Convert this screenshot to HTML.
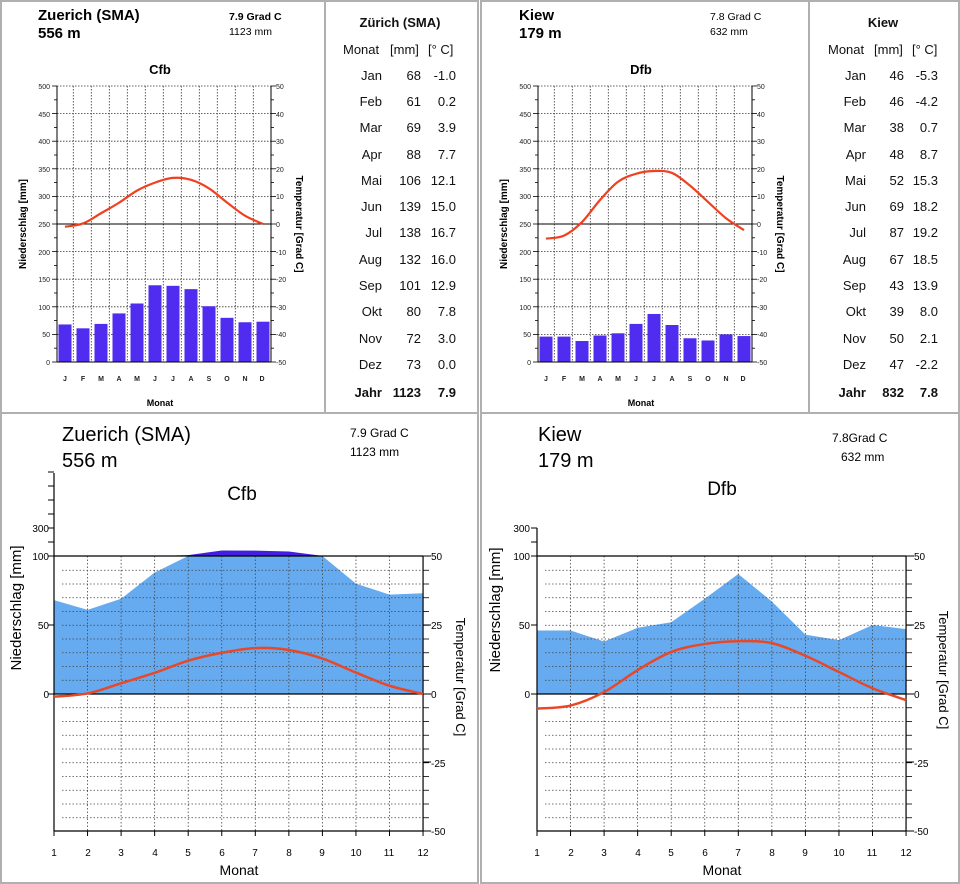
<!DOCTYPE html>
<html><head><meta charset="utf-8"><style>
body{margin:0;background:#fff;width:960px;height:884px;overflow:hidden}
svg{display:block;font-family:"Liberation Sans",sans-serif}
.b{font-weight:bold}
.t{font-size:7px;fill:#222}
.tb{font-size:13px;fill:#111}
</style></head><body>
<svg id="s" width="960" height="884" viewBox="0 0 960 884" xmlns="http://www.w3.org/2000/svg">
<rect x="0" y="0" width="960" height="884" fill="#fff"/>
<g id="g"></g>
<g fill="none" stroke="#b0b0b0" stroke-width="2">
<rect x="1" y="1" width="324" height="412"/>
<rect x="325" y="1" width="153" height="412"/>
<rect x="481" y="1" width="328" height="412"/>
<rect x="809" y="1" width="150" height="412"/>
<rect x="1" y="413" width="477" height="470"/>
<rect x="481" y="413" width="478" height="470"/>
</g>
<!-- Top-left chart text -->
<text x="38" y="20" class="b" font-size="15">Zuerich (SMA)</text>
<text x="38" y="38" class="b" font-size="15">556 m</text>
<text x="229" y="20" font-size="10.5" class="b" font-weight="normal">7.9 Grad C</text>
<text x="229" y="35" font-size="10.5">1123 mm</text>
<text x="160" y="74" class="b" font-size="13" text-anchor="middle">Cfb</text>
<text x="160" y="406" class="b" font-size="9" text-anchor="middle">Monat</text>
<text transform="translate(26,224) rotate(-90)" class="b" font-size="10" text-anchor="middle">Niederschlag [mm]</text>
<text transform="translate(296,224) rotate(90)" class="b" font-size="10" text-anchor="middle">Temperatur [Grad C]</text>
<g class="t" text-anchor="end">
<text x="50" y="89">500</text><text x="50" y="117">450</text><text x="50" y="144">400</text><text x="50" y="172">350</text><text x="50" y="199">300</text><text x="50" y="227">250</text><text x="50" y="255">200</text><text x="50" y="282">150</text><text x="50" y="310">100</text><text x="50" y="337">50</text><text x="50" y="365">0</text>
</g>
<g class="t">
<text x="276" y="89">50</text><text x="276" y="117">40</text><text x="276" y="144">30</text><text x="276" y="172">20</text><text x="276" y="199">10</text><text x="276" y="227">0</text><text x="276" y="255">-10</text><text x="276" y="282">-20</text><text x="276" y="310">-30</text><text x="276" y="337">-40</text><text x="276" y="365">-50</text>
</g>
<g class="t b" text-anchor="middle">
<text x="65" y="381">J</text><text x="83" y="381">F</text><text x="101" y="381">M</text><text x="119" y="381">A</text><text x="137" y="381">M</text><text x="155" y="381">J</text><text x="173" y="381">J</text><text x="191" y="381">A</text><text x="209" y="381">S</text><text x="227" y="381">O</text><text x="245" y="381">N</text><text x="262" y="381">D</text>
</g>
<!-- Top-right chart text -->
<text x="519" y="20" class="b" font-size="15">Kiew</text>
<text x="519" y="38" class="b" font-size="15">179 m</text>
<text x="710" y="20" font-size="10.5">7.8 Grad C</text>
<text x="710" y="35" font-size="10.5">632 mm</text>
<text x="641" y="74" class="b" font-size="13" text-anchor="middle">Dfb</text>
<text x="641" y="406" class="b" font-size="9" text-anchor="middle">Monat</text>
<text transform="translate(507,224) rotate(-90)" class="b" font-size="10" text-anchor="middle">Niederschlag [mm]</text>
<text transform="translate(777,224) rotate(90)" class="b" font-size="10" text-anchor="middle">Temperatur [Grad C]</text>
<g class="t" text-anchor="end">
<text x="531" y="89">500</text><text x="531" y="117">450</text><text x="531" y="144">400</text><text x="531" y="172">350</text><text x="531" y="199">300</text><text x="531" y="227">250</text><text x="531" y="255">200</text><text x="531" y="282">150</text><text x="531" y="310">100</text><text x="531" y="337">50</text><text x="531" y="365">0</text>
</g>
<g class="t">
<text x="757" y="89">50</text><text x="757" y="117">40</text><text x="757" y="144">30</text><text x="757" y="172">20</text><text x="757" y="199">10</text><text x="757" y="227">0</text><text x="757" y="255">-10</text><text x="757" y="282">-20</text><text x="757" y="310">-30</text><text x="757" y="337">-40</text><text x="757" y="365">-50</text>
</g>
<g class="t b" text-anchor="middle">
<text x="546" y="381">J</text><text x="564" y="381">F</text><text x="582" y="381">M</text><text x="600" y="381">A</text><text x="618" y="381">M</text><text x="636" y="381">J</text><text x="654" y="381">J</text><text x="672" y="381">A</text><text x="690" y="381">S</text><text x="708" y="381">O</text><text x="726" y="381">N</text><text x="743" y="381">D</text>
</g>
<!-- Zurich table -->
<g class="tb">
<text x="400" y="27" class="b" text-anchor="middle">Zürich (SMA)</text>
<text x="343" y="54">Monat</text><text x="390" y="54">[mm]</text><text x="428" y="54">[° C]</text>
<g text-anchor="end">
<text x="382" y="80">Jan</text><text x="421" y="80">68</text><text x="456" y="80">-1.0</text>
<text x="382" y="106">Feb</text><text x="421" y="106">61</text><text x="456" y="106">0.2</text>
<text x="382" y="132">Mar</text><text x="421" y="132">69</text><text x="456" y="132">3.9</text>
<text x="382" y="159">Apr</text><text x="421" y="159">88</text><text x="456" y="159">7.7</text>
<text x="382" y="185">Mai</text><text x="421" y="185">106</text><text x="456" y="185">12.1</text>
<text x="382" y="211">Jun</text><text x="421" y="211">139</text><text x="456" y="211">15.0</text>
<text x="382" y="237">Jul</text><text x="421" y="237">138</text><text x="456" y="237">16.7</text>
<text x="382" y="264">Aug</text><text x="421" y="264">132</text><text x="456" y="264">16.0</text>
<text x="382" y="290">Sep</text><text x="421" y="290">101</text><text x="456" y="290">12.9</text>
<text x="382" y="316">Okt</text><text x="421" y="316">80</text><text x="456" y="316">7.8</text>
<text x="382" y="343">Nov</text><text x="421" y="343">72</text><text x="456" y="343">3.0</text>
<text x="382" y="369">Dez</text><text x="421" y="369">73</text><text x="456" y="369">0.0</text>
<text x="382" y="397" class="b">Jahr</text><text x="421" y="397" class="b">1123</text><text x="456" y="397" class="b">7.9</text>
</g>
</g>
<!-- Kiew table -->
<g class="tb">
<text x="883" y="27" class="b" text-anchor="middle">Kiew</text>
<text x="828" y="54">Monat</text><text x="874" y="54">[mm]</text><text x="912" y="54">[° C]</text>
<g text-anchor="end">
<text x="866" y="80">Jan</text><text x="904" y="80">46</text><text x="938" y="80">-5.3</text>
<text x="866" y="106">Feb</text><text x="904" y="106">46</text><text x="938" y="106">-4.2</text>
<text x="866" y="132">Mar</text><text x="904" y="132">38</text><text x="938" y="132">0.7</text>
<text x="866" y="159">Apr</text><text x="904" y="159">48</text><text x="938" y="159">8.7</text>
<text x="866" y="185">Mai</text><text x="904" y="185">52</text><text x="938" y="185">15.3</text>
<text x="866" y="211">Jun</text><text x="904" y="211">69</text><text x="938" y="211">18.2</text>
<text x="866" y="237">Jul</text><text x="904" y="237">87</text><text x="938" y="237">19.2</text>
<text x="866" y="264">Aug</text><text x="904" y="264">67</text><text x="938" y="264">18.5</text>
<text x="866" y="290">Sep</text><text x="904" y="290">43</text><text x="938" y="290">13.9</text>
<text x="866" y="316">Okt</text><text x="904" y="316">39</text><text x="938" y="316">8.0</text>
<text x="866" y="343">Nov</text><text x="904" y="343">50</text><text x="938" y="343">2.1</text>
<text x="866" y="369">Dez</text><text x="904" y="369">47</text><text x="938" y="369">-2.2</text>
<text x="866" y="397" class="b">Jahr</text><text x="904" y="397" class="b">832</text><text x="938" y="397" class="b">7.8</text>
</g>
</g>
<!-- Bottom left text -->
<text x="62" y="441" font-size="20">Zuerich (SMA)</text>
<text x="62" y="467" font-size="20">556 m</text>
<text x="350" y="437" font-size="12">7.9 Grad C</text>
<text x="350" y="456" font-size="12">1123 mm</text>
<text x="242" y="500" font-size="19" text-anchor="middle">Cfb</text>
<text x="239" y="875" font-size="14" text-anchor="middle">Monat</text>
<text transform="translate(21,608) rotate(-90)" font-size="15" text-anchor="middle">Niederschlag [mm]</text>
<text transform="translate(456,677) rotate(90)" font-size="13" text-anchor="middle">Temperatur [Grad C]</text>
<g font-size="10" text-anchor="end"><text x="49" y="532">300</text><text x="49" y="560">100</text><text x="49" y="629">50</text><text x="49" y="698">0</text></g>
<g font-size="10"><text x="431" y="560">50</text><text x="431" y="629">25</text><text x="431" y="698">0</text><text x="431" y="767">-25</text><text x="431" y="835">-50</text></g>
<g font-size="10" text-anchor="middle">
<text x="54" y="856">1</text><text x="88" y="856">2</text><text x="121" y="856">3</text><text x="155" y="856">4</text><text x="188" y="856">5</text><text x="222" y="856">6</text><text x="255" y="856">7</text><text x="289" y="856">8</text><text x="322" y="856">9</text><text x="356" y="856">10</text><text x="389" y="856">11</text><text x="423" y="856">12</text>
</g>
<!-- Bottom right text -->
<text x="538" y="441" font-size="20">Kiew</text>
<text x="538" y="467" font-size="20">179  m</text>
<text x="832" y="442" font-size="12">7.8Grad C</text>
<text x="841" y="461" font-size="12">632 mm</text>
<text x="722" y="495" font-size="19" text-anchor="middle">Dfb</text>
<text x="722" y="875" font-size="14" text-anchor="middle">Monat</text>
<text transform="translate(500,610) rotate(-90)" font-size="15" text-anchor="middle">Niederschlag [mm]</text>
<text transform="translate(939,670) rotate(90)" font-size="13" text-anchor="middle">Temperatur [Grad C]</text>
<g font-size="10" text-anchor="end"><text x="530" y="532">300</text><text x="530" y="560">100</text><text x="530" y="629">50</text><text x="530" y="698">0</text></g>
<g font-size="10"><text x="914" y="560">50</text><text x="914" y="629">25</text><text x="914" y="698">0</text><text x="914" y="767">-25</text><text x="914" y="835">-50</text></g>
<g font-size="10" text-anchor="middle">
<text x="537" y="856">1</text><text x="571" y="856">2</text><text x="604" y="856">3</text><text x="638" y="856">4</text><text x="671" y="856">5</text><text x="705" y="856">6</text><text x="738" y="856">7</text><text x="772" y="856">8</text><text x="805" y="856">9</text><text x="839" y="856">10</text><text x="872" y="856">11</text><text x="906" y="856">12</text>
</g>
</svg>
<script>
(function(){
var g=document.getElementById('g'),NS='http://www.w3.org/2000/svg';
function el(t,a){var e=document.createElementNS(NS,t);for(var k in a)e.setAttribute(k,a[k]);g.appendChild(e);return e;}
function ln(x1,y1,x2,y2,s,w,d){var a={x1:x1,y1:y1,x2:x2,y2:y2,stroke:s||'#000','stroke-width':w||1};if(d)a['stroke-dasharray']=d;el('line',a);}
function smooth(p){var d='M'+p[0][0]+','+p[0][1];for(var i=0;i<p.length-1;i++){var p0=p[i-1]||p[i],p1=p[i],p2=p[i+1],p3=p[i+2]||p2;
d+=' C'+(p1[0]+(p2[0]-p0[0])/6)+','+(p1[1]+(p2[1]-p0[1])/6)+' '+(p2[0]-(p3[0]-p1[0])/6)+','+(p2[1]-(p3[1]-p1[1])/6)+' '+p2[0]+','+p2[1];}return d;}
var Z={p:[68,61,69,88,106,139,138,132,101,80,72,73],t:[-1.0,0.2,3.9,7.7,12.1,15.0,16.7,16.0,12.9,7.8,3.0,0.0]};
var K={p:[46,46,38,48,52,69,87,67,43,39,50,47],t:[-5.3,-4.2,0.7,8.7,15.3,18.2,19.2,18.5,13.9,8.0,2.1,-2.2]};
function top(ox,D){
 var x0=57+ox,x1=271+ox,y0=86,y1=362;
 for(var k=1;k<=11;k++){var x=x0+16.3+18*(k-1);ln(x,y0,x,y1,'#333',0.8,'1.5,1.5');}
 for(var k=1;k<10;k++){var y=y1-27.6*k;if(k!=5)ln(x0,y,x1,y,'#333',0.8,'1.5,1.5');}
 ln(x0,y0,x1,y0,'#333',0.8,'1.5,1.5');
 ln(x0,224,x1,224,'#000',1);
 for(var i=0;i<12;i++){var cx=x0+8+18*i,h=D.p[i]*0.552;el('rect',{x:cx-6.5,y:y1-h,width:13,height:h,fill:'#4f2cf0'});}
 ln(x0,y0,x0,y1,'#000',1);ln(x1,y0,x1,y1,'#000',1);ln(x0,y1,x1,y1,'#000',1);
 for(var k=0;k<=20;k++){var y=y1-13.8*k,w=k%2?3:5;ln(x0-w,y,x0,y,'#000',0.8);ln(x1,y,x1+w,y,'#000',0.8);}
 var pts=D.t.map(function(t,i){return[x0+8+18*i,224-2.76*t];});
 el('path',{d:smooth(pts),fill:'none',stroke:'#f04020','stroke-width':2.2});
}
top(0,Z);top(481,K);
function bot(ox,D,axTop){
 var x0=54+ox,dx=33.55,yT=556,y0=694,yB=831,x1=x0+11*dx;
 // precip area
 var pts=[];for(var i=0;i<12;i++){var p=D.p[i];pts.push([x0+dx*i,y0-Math.min(p,100)*1.38]);}
 var d='M'+x0+','+y0;pts.forEach(function(q){d+=' L'+q[0]+','+q[1];});d+=' L'+x1+','+y0+'Z';
 el('path',{d:d,fill:'#66aaf0'});
 // above 100 dark
 var up=[];for(var i=0;i<12;i++){up.push([x0+dx*i,D.p[i]>100?yT-(D.p[i]-100)*0.14:yT]);}
 var d2='M'+x0+','+yT;up.forEach(function(q){d2+=' L'+q[0]+','+q[1];});d2+=' L'+x1+','+yT+'Z';
 el('path',{d:d2,fill:'#4020e0'});
 for(var k=1;k<=11;k++){var x=x0+dx*k;if(k<11)ln(x,yT,x,yB,'#444',0.8,'1.5,2');}
 for(var k=-9;k<=9;k++){if(k==0)continue;var y=y0-13.75*k;ln(x0+8,y,x1,y,'#444',0.8,'1.5,2');ln(x1,y,x1+6,y,'#000',0.8);}
 ln(x0,yT,x1,yT,'#000',1.2);ln(x0,y0,x1,y0,'#000',1.2);ln(x0,yB,x1,yB,'#000',1.2);
 ln(x0,axTop,x0,yB,'#000',1.2);ln(x1,yT,x1,yB,'#000',1.2);
 [yT,625,y0].forEach(function(y){ln(x0-6,y,x0,y,'#000',1);});
 for(var y=528;y>=axTop-1;y-=14)ln(x0-6,y,x0,y,'#000',1);
 ln(x0-6,542,x0,542,'#000',1);
 [yT,625,y0,762,yB].forEach(function(y){ln(x1,y,x1+8,y,'#000',1);});
 for(var k=0;k<12;k++)ln(x0+dx*k,yB,x0+dx*k,yB+5,'#000',1);
 var tp=D.t.map(function(t,i){return[x0+dx*i,y0-2.75*t];});
 el('path',{d:smooth(tp),fill:'none',stroke:'#e84828','stroke-width':2.5});
}
bot(0,Z,473);bot(483,K,528);
})();
</script>
</body></html>
